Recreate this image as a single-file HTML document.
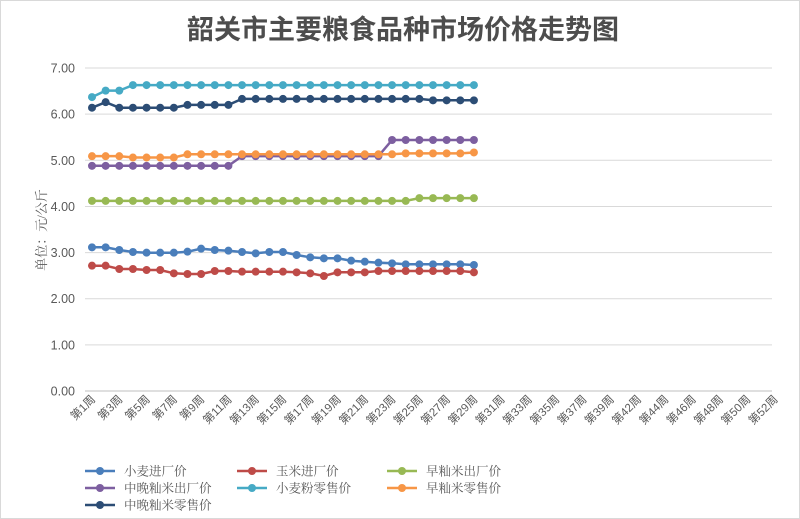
<!DOCTYPE html>
<html><head><meta charset="utf-8"><style>
body{margin:0;background:#fff}
svg{display:block}
</style></head><body>
<svg id="s" width="800" height="519" xmlns="http://www.w3.org/2000/svg" font-family="'Liberation Sans','Noto Sans CJK SC',sans-serif">
<rect x="0.5" y="0.5" width="799" height="518" fill="#fff" stroke="#d9d9d9"/>
<text x="403" y="39" text-anchor="middle" font-size="27" font-weight="bold" fill="#4d4d4d" font-family="'Liberation Sans','Noto Sans CJK SC',sans-serif">韶关市主要粮食品种市场价格走势图</text>
<g id="grid"></g>
<text transform="translate(46,230) rotate(-90)" text-anchor="middle" font-size="13" fill="#595959" font-family="'Liberation Serif','Noto Serif CJK SC',serif">单位：元/公斤</text>
<g id="series"></g>
<g id="legend" font-size="12.5" fill="#595959" font-family="'Liberation Serif','Noto Serif CJK SC',serif"></g>
</svg>
<script>
const NS="http://www.w3.org/2000/svg";
function el(t,a,p,txt){const e=document.createElementNS(NS,t);for(const k in a)e.setAttribute(k,a[k]);if(txt!==undefined)e.textContent=txt;p.appendChild(e);return e;}
const Y=v=>391-v*46.14;
const g=document.getElementById('grid');
for(let i=0;i<=7;i++){const y=Y(i);el('line',{x1:85,x2:772,y1:y,y2:y,stroke:i==0?'#bfbfbf':'#d9d9d9','stroke-width':1},g);
el('text',{x:75,y:y+4.5,'text-anchor':'end','font-size':12.5,fill:'#595959'},g,i.toFixed(2));}
const labs=[1,3,5,7,9,11,13,15,17,19,21,23,25,27,29,31,33,35,37,39,42,44,46,48,50,52];
labs.forEach((n,i)=>{const x=96+i*27.3;el('text',{transform:`translate(${x},400) rotate(-45)`,'text-anchor':'end','font-size':11.5,fill:'#595959'},g,'第'+n+'周');});
const X=i=>92+i*13.64;
const fz=a=>a.map(z=>(391-(70+z/3))/46.14);
const rep=(v,n)=>Array(n).fill(v);
const S=[
 {c:'#4a7ebb',d:fz([532,532,540,546,548,548,548,545,536,540,542,546,550,546,546,555,562,565,565,572,575,578,580,583,583,583,583,583,585])},
 {c:'#be4b48',d:fz([587,587,597,597,600,600,610,612,612,603,603,605,605,605,605,607,610,618,607,607,607,603,603,603,603,603,603,603,607])},
 {c:'#98b954',d:[...rep(4.12,24),...rep(4.18,5)]},
 {c:'#7d5fa0',d:[...rep(4.88,11),...rep(5.09,11),...rep(5.44,7)]},
 {c:'#46aac5',d:[6.37,6.51,6.51,...rep(6.63,26)]},
 {c:'#f79646',d:[5.09,5.09,5.09,5.06,5.06,5.06,5.06,...rep(5.13,16),5.15,5.15,5.15,5.15,5.15,5.17]},
 {c:'#2c4d75',d:[6.14,6.26,...rep(6.14,5),...rep(6.2,4),...rep(6.33,14),...rep(6.30,4)]},
];
const sg=document.getElementById('series');
S.forEach(s=>{el('polyline',{points:s.d.map((v,i)=>X(i)+','+Y(v).toFixed(1)).join(' '),fill:'none',stroke:s.c,'stroke-width':2.5},sg);
s.d.forEach((v,i)=>el('circle',{cx:X(i),cy:Y(v),r:4,fill:s.c},sg));});
const names=['小麦进厂价','玉米进厂价','早籼米出厂价','中晚籼米出厂价','小麦粉零售价','早籼米零售价','中晚籼米零售价'];
const lg=document.getElementById('legend');const cx=[85,237,387],ry=[471,488,505];
names.forEach((n,i)=>{const x=cx[i%3],y=ry[Math.floor(i/3)];
el('line',{x1:x,x2:x+30,y1:y,y2:y,stroke:S[i].c,'stroke-width':2.5},lg);
el('circle',{cx:x+15,cy:y,r:4,fill:S[i].c},lg);
el('text',{x:x+39,y:y+4.5},lg,n);});
</script>
</body></html>
